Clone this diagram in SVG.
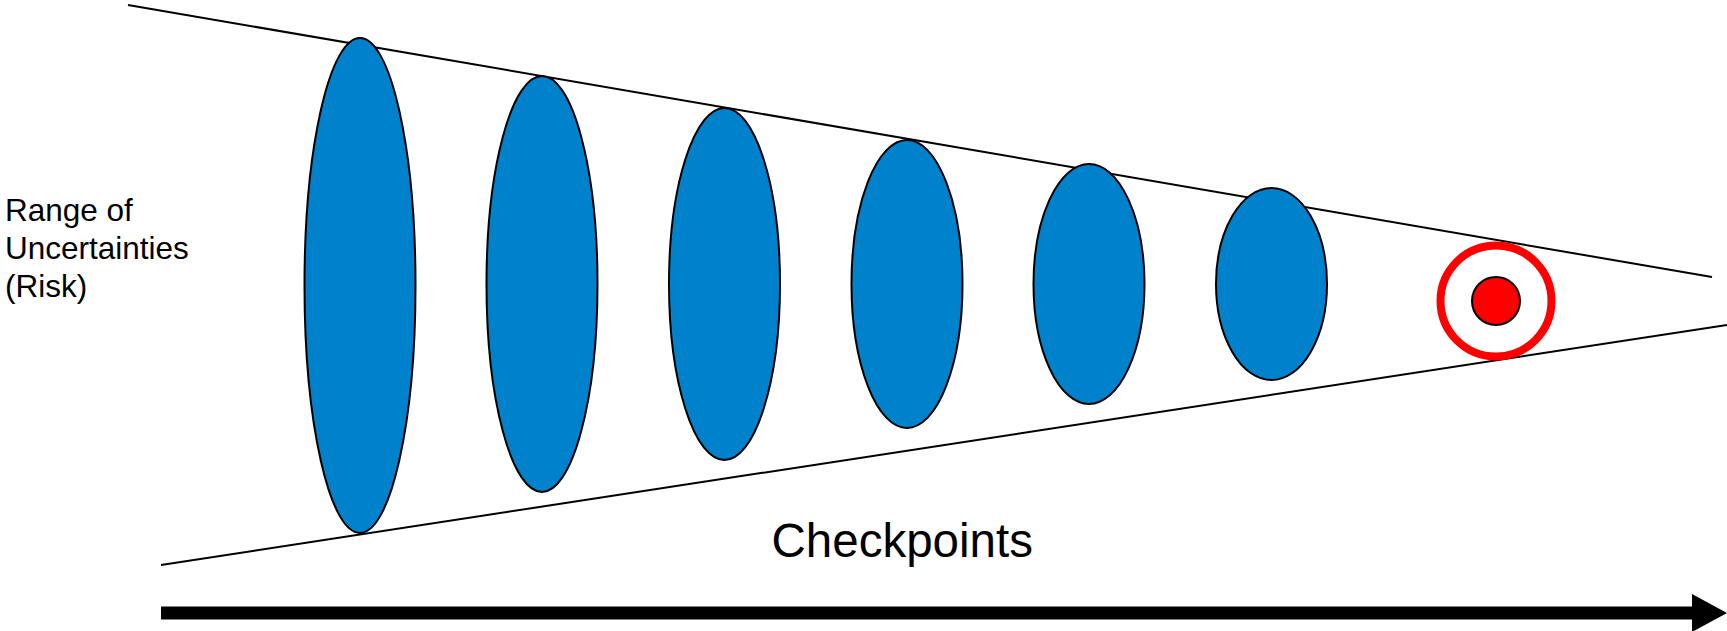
<svg xmlns="http://www.w3.org/2000/svg" width="1727" height="631" viewBox="0 0 1727 631">
<style>
.edge{stroke:#000;stroke-width:2;fill:none}
.blob{fill:#0081CC;stroke:#000;stroke-width:2}
.lbl{font-family:"Liberation Sans",Arial,sans-serif;fill:#000}
</style>
<rect width="1727" height="631" fill="#fff"/>
<g id="connectors">
<line class="edge" x1="128" y1="5" x2="1712" y2="277"/>
<line class="edge" x1="161" y1="565" x2="1727" y2="325"/>
</g>
<g id="e1"><ellipse class="blob" cx="360" cy="285.5" rx="55.5" ry="247.5"/></g>
<g id="e2"><ellipse class="blob" cx="542" cy="284" rx="55.5" ry="208"/></g>
<g id="e3"><ellipse class="blob" cx="724.5" cy="284" rx="55.5" ry="176"/></g>
<g id="e4"><ellipse class="blob" cx="907" cy="284" rx="55.5" ry="144"/></g>
<g id="e5"><ellipse class="blob" cx="1089" cy="284" rx="55.5" ry="120"/></g>
<g id="e6"><ellipse class="blob" cx="1271.5" cy="284" rx="55.5" ry="96"/></g>
<g id="target">
<circle cx="1496" cy="301" r="55.5" fill="none" stroke="#FF0000" stroke-width="8"/>
<circle cx="1496" cy="301" r="24" fill="#FF0000" stroke="#000" stroke-width="2"/>
</g>
<g id="ylabel">
<text class="lbl" font-size="31.5" x="5" y="221">Range of</text>
<text class="lbl" font-size="31.5" x="5" y="259">Uncertainties</text>
<text class="lbl" font-size="31.5" x="5" y="297">(Risk)</text>
</g>
<g id="xlabel">
<text class="lbl" font-size="47.5" x="771.5" y="557">Checkpoints</text>
</g>
<g id="axis">
<rect x="161" y="606.5" width="1533" height="13" fill="#000"/>
<polygon points="1692,594 1727,613 1692,632" fill="#000"/>
</g>
</svg>
